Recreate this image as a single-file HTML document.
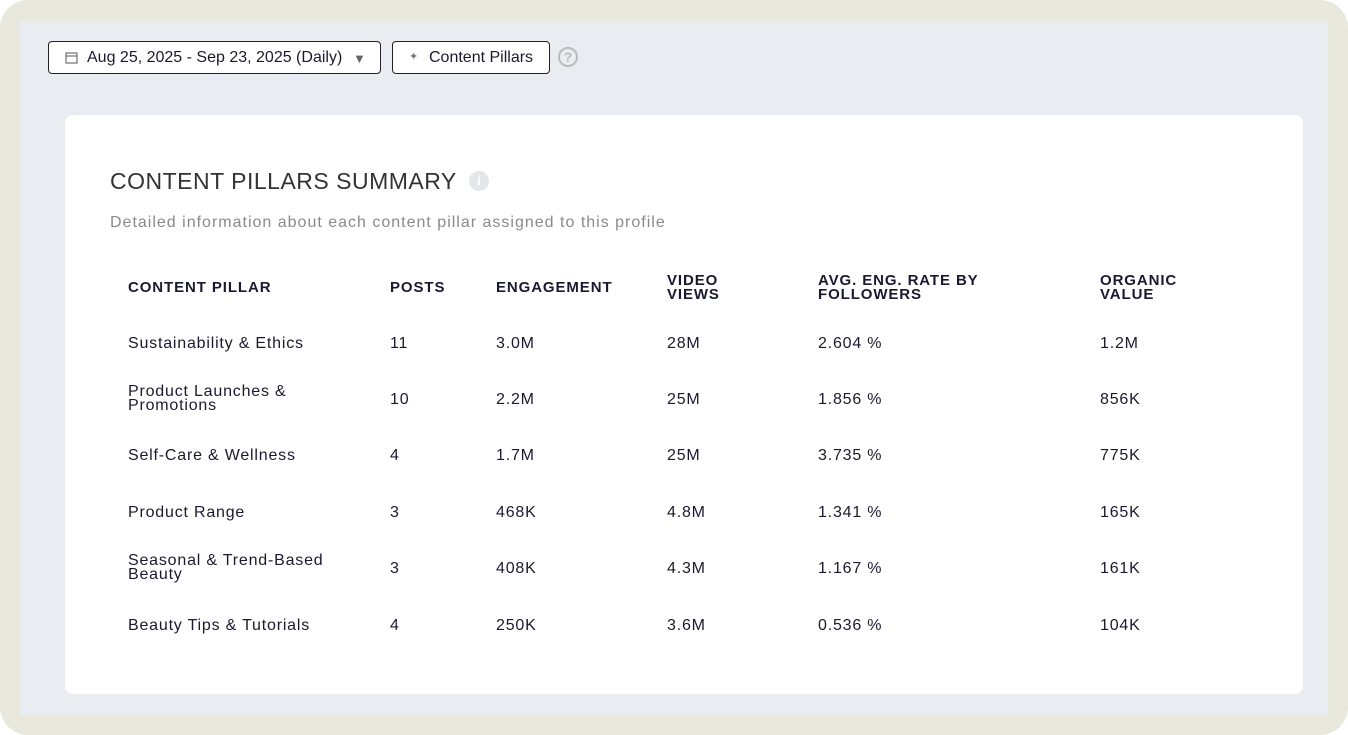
<!DOCTYPE html>
<html><head><meta charset="utf-8"><style>
*{margin:0;padding:0;box-sizing:border-box}
body{width:1348px;height:735px;background:#fff;font-family:"Liberation Sans",sans-serif;position:relative;overflow:hidden}
.outer{position:absolute;left:0;top:0;width:1348px;height:735px;background:#e8e9dc;border-radius:28px}
.inner{position:absolute;left:20px;top:21px;width:1308px;height:694px;background:#e9edf2}
.btn{position:absolute;top:41px;height:33px;border:1px solid #222;border-radius:4px;background:#fff;font-size:16px;color:#1a1a2e;line-height:31px}
.card{position:absolute;left:65px;top:115px;width:1238px;height:579px;background:#fff;border-radius:8px}
.t{position:absolute;white-space:nowrap;color:#1a1a2e}
.h{font-weight:bold;font-size:15px;line-height:14px;letter-spacing:0.9px}
.c{font-size:16px;letter-spacing:0.8px}
</style></head><body>
<div class="outer"></div>
<div class="inner"></div>
<div class="btn" style="left:48px;width:333px">
 <svg style="position:absolute;left:16px;top:9px" width="13" height="13" viewBox="0 0 13 13"><rect x="1" y="2" width="11" height="10" fill="none" stroke="#555" stroke-width="1"/><line x1="1" y1="5" x2="12" y2="5" stroke="#555"/></svg>
 <span style="position:absolute;left:38px">Aug 25, 2025 - Sep 23, 2025 (Daily)</span>
 <span style="position:absolute;left:304px;top:1px;color:#666;font-size:13px">▼</span>
</div>
<div class="btn" style="left:392px;width:158px">
 <span style="position:absolute;left:16px;top:0;color:#777;font-size:11px">✦</span>
 <span style="position:absolute;left:36px">Content Pillars</span>
</div>
<div style="position:absolute;left:558px;top:47px;width:20px;height:20px;border:2px solid #bbb;border-radius:50%;color:#bbb;font-weight:bold;font-size:14px;text-align:center;line-height:16px">?</div>
<div class="card"></div>
<div class="t" style="left:110px;top:168px;font-size:23px;color:#333;letter-spacing:0.5px">CONTENT PILLARS SUMMARY</div>
<div style="position:absolute;left:469px;top:171px;width:20px;height:20px;border-radius:50%;background:#e4e6ea;color:#fff;font-weight:bold;font-size:13px;text-align:center;line-height:20px">i</div>
<div class="t" style="left:110px;top:214px;font-size:16px;color:#8a8a8a;letter-spacing:1px">Detailed information about each content pillar assigned to this profile</div>

<div class="t h" style="left:128px;top:281px">CONTENT PILLAR</div>
<div class="t h" style="left:390px;top:281px">POSTS</div>
<div class="t h" style="left:496px;top:281px">ENGAGEMENT</div>
<div class="t h" style="left:667px;top:274px">VIDEO<br>VIEWS</div>
<div class="t h" style="left:818px;top:274px">AVG. ENG. RATE BY<br>FOLLOWERS</div>
<div class="t h" style="left:1100px;top:274px">ORGANIC<br>VALUE</div>

<div class="t c" style="left:128px;top:335px">Sustainability &amp; Ethics</div>
<div class="t c" style="left:390px;top:335px">11</div><div class="t c" style="left:496px;top:335px">3.0M</div><div class="t c" style="left:667px;top:335px">28M</div><div class="t c" style="left:818px;top:335px">2.604 %</div><div class="t c" style="left:1100px;top:335px">1.2M</div>

<div class="t c" style="left:128px;top:385px;line-height:14px">Product Launches &amp;<br>Promotions</div>
<div class="t c" style="left:390px;top:391px">10</div><div class="t c" style="left:496px;top:391px">2.2M</div><div class="t c" style="left:667px;top:391px">25M</div><div class="t c" style="left:818px;top:391px">1.856 %</div><div class="t c" style="left:1100px;top:391px">856K</div>

<div class="t c" style="left:128px;top:447px">Self-Care &amp; Wellness</div>
<div class="t c" style="left:390px;top:447px">4</div><div class="t c" style="left:496px;top:447px">1.7M</div><div class="t c" style="left:667px;top:447px">25M</div><div class="t c" style="left:818px;top:447px">3.735 %</div><div class="t c" style="left:1100px;top:447px">775K</div>

<div class="t c" style="left:128px;top:504px">Product Range</div>
<div class="t c" style="left:390px;top:504px">3</div><div class="t c" style="left:496px;top:504px">468K</div><div class="t c" style="left:667px;top:504px">4.8M</div><div class="t c" style="left:818px;top:504px">1.341 %</div><div class="t c" style="left:1100px;top:504px">165K</div>

<div class="t c" style="left:128px;top:554px;line-height:14px">Seasonal &amp; Trend-Based<br>Beauty</div>
<div class="t c" style="left:390px;top:560px">3</div><div class="t c" style="left:496px;top:560px">408K</div><div class="t c" style="left:667px;top:560px">4.3M</div><div class="t c" style="left:818px;top:560px">1.167 %</div><div class="t c" style="left:1100px;top:560px">161K</div>

<div class="t c" style="left:128px;top:617px">Beauty Tips &amp; Tutorials</div>
<div class="t c" style="left:390px;top:617px">4</div><div class="t c" style="left:496px;top:617px">250K</div><div class="t c" style="left:667px;top:617px">3.6M</div><div class="t c" style="left:818px;top:617px">0.536 %</div><div class="t c" style="left:1100px;top:617px">104K</div>
</body></html>
